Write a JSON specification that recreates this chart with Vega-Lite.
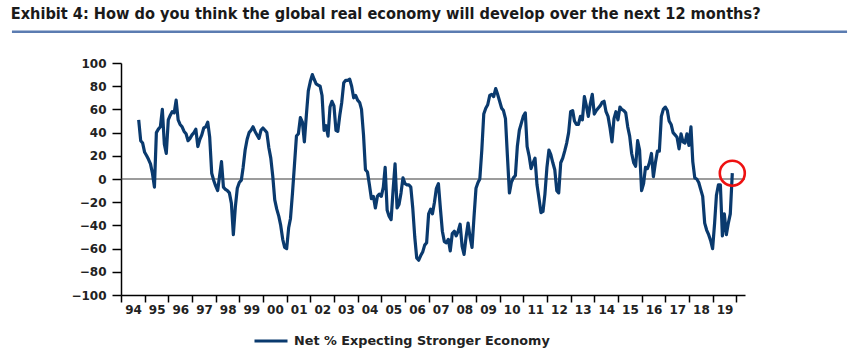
{
  "$schema": "https://vega.github.io/schema/vega-lite/v6.json",
  "background": "white",
  "padding": {"left": 10, "top": 6, "right": 8, "bottom": 5},
  "title": {
    "text": "Exhibit 4: How do you think the global real economy will develop over the next 12 months?",
    "anchor": "start",
    "font": "DejaVu Sans Condensed, Liberation Sans Narrow, Liberation Sans, sans-serif",
    "fontSize": 16.2,
    "fontWeight": "bold",
    "color": "#1a1a1a",
    "offset": 8
  },
  "width": 624,
  "height": 232,
  "config": {
    "view": {"stroke": null},
    "axis": {
      "grid": false,
      "domainColor": "#000000",
      "domainWidth": 1.5,
      "tickColor": "#000000",
      "tickWidth": 1.5,
      "labelFont": "DejaVu Sans",
      "labelFontSize": 12,
      "labelFontWeight": "bold",
      "labelColor": "#222222",
      "labelOverlap": false,
      "title": null
    },
    "axisY": {"tickSize": 9, "labelPadding": 6, "tickCount": 11}
  },
  "datasets": {
    "series": [
    {"date":"1994-10-01","value":51},{"date":"1994-11-01","value":33},{"date":"1994-12-01","value":31},
    {"date":"1995-01-01","value":23},{"date":"1995-02-01","value":20},{"date":"1995-03-01","value":17},{"date":"1995-04-01","value":13},{"date":"1995-05-01","value":5},{"date":"1995-06-01","value":-7},{"date":"1995-07-01","value":40},{"date":"1995-08-01","value":43},{"date":"1995-09-01","value":45},{"date":"1995-10-01","value":60},{"date":"1995-11-01","value":30},{"date":"1995-12-01","value":22},
    {"date":"1996-01-01","value":51},{"date":"1996-02-01","value":55},{"date":"1996-03-01","value":58},{"date":"1996-04-01","value":57},{"date":"1996-05-01","value":68},{"date":"1996-06-01","value":51},{"date":"1996-07-01","value":47},{"date":"1996-08-01","value":45},{"date":"1996-09-01","value":41},{"date":"1996-10-01","value":39},{"date":"1996-11-01","value":33},{"date":"1996-12-01","value":35},
    {"date":"1997-01-01","value":38},{"date":"1997-02-01","value":40},{"date":"1997-03-01","value":43},{"date":"1997-04-01","value":28},{"date":"1997-05-01","value":34},{"date":"1997-06-01","value":38},{"date":"1997-07-01","value":44},{"date":"1997-08-01","value":45},{"date":"1997-09-01","value":49},{"date":"1997-10-01","value":36},{"date":"1997-11-01","value":5},{"date":"1997-12-01","value":-1},
    {"date":"1998-01-01","value":-6},{"date":"1998-02-01","value":-10},{"date":"1998-03-01","value":2},{"date":"1998-04-01","value":15},{"date":"1998-05-01","value":-7},{"date":"1998-06-01","value":-9},{"date":"1998-07-01","value":-10},{"date":"1998-08-01","value":-12},{"date":"1998-09-01","value":-21},{"date":"1998-10-01","value":-48},{"date":"1998-11-01","value":-24},{"date":"1998-12-01","value":-8},
    {"date":"1999-01-01","value":-3},{"date":"1999-02-01","value":-1},{"date":"1999-03-01","value":10},{"date":"1999-04-01","value":25},{"date":"1999-05-01","value":34},{"date":"1999-06-01","value":40},{"date":"1999-07-01","value":42},{"date":"1999-08-01","value":45},{"date":"1999-09-01","value":41},{"date":"1999-10-01","value":38},{"date":"1999-11-01","value":35},{"date":"1999-12-01","value":42},
    {"date":"2000-01-01","value":44},{"date":"2000-02-01","value":42},{"date":"2000-03-01","value":40},{"date":"2000-04-01","value":27},{"date":"2000-05-01","value":18},{"date":"2000-06-01","value":2},{"date":"2000-07-01","value":-18},{"date":"2000-08-01","value":-26},{"date":"2000-09-01","value":-32},{"date":"2000-10-01","value":-40},{"date":"2000-11-01","value":-52},{"date":"2000-12-01","value":-59},
    {"date":"2001-01-01","value":-60},{"date":"2001-02-01","value":-42},{"date":"2001-03-01","value":-34},{"date":"2001-04-01","value":-12},{"date":"2001-05-01","value":12},{"date":"2001-06-01","value":37},{"date":"2001-07-01","value":39},{"date":"2001-08-01","value":53},{"date":"2001-09-01","value":49},{"date":"2001-10-01","value":32},{"date":"2001-11-01","value":55},{"date":"2001-12-01","value":76},
    {"date":"2002-01-01","value":84},{"date":"2002-02-01","value":90},{"date":"2002-03-01","value":86},{"date":"2002-04-01","value":82},{"date":"2002-05-01","value":81},{"date":"2002-06-01","value":80},{"date":"2002-07-01","value":72},{"date":"2002-08-01","value":42},{"date":"2002-09-01","value":46},{"date":"2002-10-01","value":37},{"date":"2002-11-01","value":62},{"date":"2002-12-01","value":67},
    {"date":"2003-01-01","value":63},{"date":"2003-02-01","value":42},{"date":"2003-03-01","value":41},{"date":"2003-04-01","value":55},{"date":"2003-05-01","value":66},{"date":"2003-06-01","value":83},{"date":"2003-07-01","value":85},{"date":"2003-08-01","value":85},{"date":"2003-09-01","value":86},{"date":"2003-10-01","value":80},{"date":"2003-11-01","value":70},{"date":"2003-12-01","value":72},
    {"date":"2004-01-01","value":68},{"date":"2004-02-01","value":66},{"date":"2004-03-01","value":60},{"date":"2004-04-01","value":38},{"date":"2004-05-01","value":8},{"date":"2004-06-01","value":6},{"date":"2004-07-01","value":-5},{"date":"2004-08-01","value":-17},{"date":"2004-09-01","value":-15},{"date":"2004-10-01","value":-25},{"date":"2004-11-01","value":-15},{"date":"2004-12-01","value":-13},
    {"date":"2005-01-01","value":-15},{"date":"2005-02-01","value":-7},{"date":"2005-03-01","value":10},{"date":"2005-04-01","value":-27},{"date":"2005-05-01","value":-32},{"date":"2005-06-01","value":-35},{"date":"2005-07-01","value":-10},{"date":"2005-08-01","value":13},{"date":"2005-09-01","value":-25},{"date":"2005-10-01","value":-22},{"date":"2005-11-01","value":-12},{"date":"2005-12-01","value":1},
    {"date":"2006-01-01","value":-4},{"date":"2006-02-01","value":-5},{"date":"2006-03-01","value":-5},{"date":"2006-04-01","value":-7},{"date":"2006-05-01","value":-25},{"date":"2006-06-01","value":-50},{"date":"2006-07-01","value":-68},{"date":"2006-08-01","value":-70},{"date":"2006-09-01","value":-66},{"date":"2006-10-01","value":-63},{"date":"2006-11-01","value":-57},{"date":"2006-12-01","value":-55},
    {"date":"2007-01-01","value":-30},{"date":"2007-02-01","value":-26},{"date":"2007-03-01","value":-30},{"date":"2007-04-01","value":-20},{"date":"2007-05-01","value":-8},{"date":"2007-06-01","value":-4},{"date":"2007-07-01","value":-25},{"date":"2007-08-01","value":-45},{"date":"2007-09-01","value":-54},{"date":"2007-10-01","value":-55},{"date":"2007-11-01","value":-52},{"date":"2007-12-01","value":-62},
    {"date":"2008-01-01","value":-47},{"date":"2008-02-01","value":-45},{"date":"2008-03-01","value":-49},{"date":"2008-04-01","value":-45},{"date":"2008-05-01","value":-39},{"date":"2008-06-01","value":-58},{"date":"2008-07-01","value":-65},{"date":"2008-08-01","value":-50},{"date":"2008-09-01","value":-38},{"date":"2008-10-01","value":-50},{"date":"2008-11-01","value":-59},{"date":"2008-12-01","value":-33},
    {"date":"2009-01-01","value":-8},{"date":"2009-02-01","value":-3},{"date":"2009-03-01","value":0},{"date":"2009-04-01","value":25},{"date":"2009-05-01","value":56},{"date":"2009-06-01","value":61},{"date":"2009-07-01","value":64},{"date":"2009-08-01","value":72},{"date":"2009-09-01","value":73},{"date":"2009-10-01","value":71},{"date":"2009-11-01","value":78},{"date":"2009-12-01","value":73},
    {"date":"2010-01-01","value":67},{"date":"2010-02-01","value":61},{"date":"2010-03-01","value":59},{"date":"2010-04-01","value":52},{"date":"2010-05-01","value":20},{"date":"2010-06-01","value":-12},{"date":"2010-07-01","value":-3},{"date":"2010-08-01","value":1},{"date":"2010-09-01","value":3},{"date":"2010-10-01","value":28},{"date":"2010-11-01","value":42},{"date":"2010-12-01","value":48},
    {"date":"2011-01-01","value":54},{"date":"2011-02-01","value":57},{"date":"2011-03-01","value":28},{"date":"2011-04-01","value":20},{"date":"2011-05-01","value":9},{"date":"2011-06-01","value":14},{"date":"2011-07-01","value":18},{"date":"2011-08-01","value":-5},{"date":"2011-09-01","value":-17},{"date":"2011-10-01","value":-29},{"date":"2011-11-01","value":-28},{"date":"2011-12-01","value":-13},
    {"date":"2012-01-01","value":10},{"date":"2012-02-01","value":25},{"date":"2012-03-01","value":21},{"date":"2012-04-01","value":14},{"date":"2012-05-01","value":8},{"date":"2012-06-01","value":-10},{"date":"2012-07-01","value":-12},{"date":"2012-08-01","value":14},{"date":"2012-09-01","value":18},{"date":"2012-10-01","value":24},{"date":"2012-11-01","value":31},{"date":"2012-12-01","value":40},
    {"date":"2013-01-01","value":58},{"date":"2013-02-01","value":59},{"date":"2013-03-01","value":50},{"date":"2013-04-01","value":47},{"date":"2013-05-01","value":47},{"date":"2013-06-01","value":54},{"date":"2013-07-01","value":51},{"date":"2013-08-01","value":71},{"date":"2013-09-01","value":63},{"date":"2013-10-01","value":54},{"date":"2013-11-01","value":65},{"date":"2013-12-01","value":73},
    {"date":"2014-01-01","value":56},{"date":"2014-02-01","value":59},{"date":"2014-03-01","value":61},{"date":"2014-04-01","value":63},{"date":"2014-05-01","value":66},{"date":"2014-06-01","value":67},{"date":"2014-07-01","value":58},{"date":"2014-08-01","value":54},{"date":"2014-09-01","value":44},{"date":"2014-10-01","value":32},{"date":"2014-11-01","value":52},{"date":"2014-12-01","value":58},
    {"date":"2015-01-01","value":51},{"date":"2015-02-01","value":62},{"date":"2015-03-01","value":60},{"date":"2015-04-01","value":59},{"date":"2015-05-01","value":57},{"date":"2015-06-01","value":45},{"date":"2015-07-01","value":37},{"date":"2015-08-01","value":22},{"date":"2015-09-01","value":14},{"date":"2015-10-01","value":11},{"date":"2015-11-01","value":33},{"date":"2015-12-01","value":25},
    {"date":"2016-01-01","value":-10},{"date":"2016-02-01","value":-4},{"date":"2016-03-01","value":10},{"date":"2016-04-01","value":9},{"date":"2016-05-01","value":14},{"date":"2016-06-01","value":22},{"date":"2016-07-01","value":2},{"date":"2016-08-01","value":14},{"date":"2016-09-01","value":24},{"date":"2016-10-01","value":24},{"date":"2016-11-01","value":54},{"date":"2016-12-01","value":60},
    {"date":"2017-01-01","value":62},{"date":"2017-02-01","value":59},{"date":"2017-03-01","value":50},{"date":"2017-04-01","value":47},{"date":"2017-05-01","value":40},{"date":"2017-06-01","value":38},{"date":"2017-07-01","value":36},{"date":"2017-08-01","value":26},{"date":"2017-09-01","value":39},{"date":"2017-10-01","value":32},{"date":"2017-11-01","value":31},{"date":"2017-12-01","value":39},
    {"date":"2018-01-01","value":29},{"date":"2018-02-01","value":45},{"date":"2018-03-01","value":15},{"date":"2018-04-01","value":1},{"date":"2018-05-01","value":0},{"date":"2018-06-01","value":-3},{"date":"2018-07-01","value":-9},{"date":"2018-08-01","value":-15},{"date":"2018-09-01","value":-38},{"date":"2018-10-01","value":-44},{"date":"2018-11-01","value":-48},{"date":"2018-12-01","value":-53},
    {"date":"2019-01-01","value":-60},{"date":"2019-02-01","value":-38},{"date":"2019-03-01","value":-14},{"date":"2019-04-01","value":-5},{"date":"2019-05-01","value":-5},{"date":"2019-06-01","value":-49},{"date":"2019-07-01","value":-30},{"date":"2019-08-01","value":-48},{"date":"2019-09-01","value":-38},{"date":"2019-10-01","value":-30},{"date":"2019-11-01","value":5}
    ],
    "underline": [{"start": "1989-05-24", "end": "2024-09-06", "level": 127}],
    "zero": [{"level": 0}]
  },
  "layer": [
    {
      "data": {"name": "zero"},
      "mark": {"type": "rule", "color": "#3a3a3a", "strokeWidth": 1.1},
      "encoding": {
        "y": {"field": "level", "type": "quantitative", "scale": {"domain": [-100, 100], "nice": false},
          "axis": {"values": [-100, -80, -60, -40, -20, 0, 20, 40, 60, 80, 100]}}
      }
    },
    {
      "data": {"name": "series"},
      "mark": {"type": "line", "strokeWidth": 3.2, "strokeJoin": "round"},
      "encoding": {
        "x": {
          "field": "date",
          "type": "temporal",
          "scale": {
            "type": "utc",
            "domain": [{"year": 1994, "month": 1, "date": 1, "utc": true}, {"year": 2020, "month": 5, "date": 15, "utc": true}],
            "nice": false
          },
          "axis": {
            "tickCount": {"interval": "year", "step": 1},
            "tickSize": 7,
            "labelPadding": 2,
            "labelOffset": 12,
            "labelFlush": false,
            "labelExpr": "utcyear(datum.value) >= 2020 ? '' : utcFormat(datum.value, '%y')"
          }
        },
        "y": {"field": "value", "type": "quantitative",
          "axis": {"values": [-100, -80, -60, -40, -20, 0, 20, 40, 60, 80, 100]}},
        "color": {
          "datum": "Net % Expecting Stronger Economy",
          "scale": {"range": ["#0a3a6e"]},
          "legend": {
            "orient": "none",
            "legendX": 132,
            "legendY": 260,
            "direction": "horizontal",
            "title": null,
            "symbolType": "stroke",
            "symbolSize": 1089,
            "symbolStrokeWidth": 3,
            "labelFont": "DejaVu Sans",
            "labelFontSize": 12.8,
            "labelFontWeight": "bold",
            "labelColor": "#222222",
            "labelOffset": 5,
            "labelLimit": 0
          }
        }
      }
    },
    {
      "data": {"name": "series"},
      "transform": [{"filter": "utcyear(datum.date) == 2019 && utcmonth(datum.date) == 10"}],
      "mark": {"type": "point", "shape": "circle", "filled": false, "size": 625, "stroke": "#ee1111", "strokeWidth": 2.6, "opacity": 1},
      "encoding": {
        "x": {"field": "date", "type": "temporal"},
        "y": {"field": "value", "type": "quantitative",
          "axis": {"values": [-100, -80, -60, -40, -20, 0, 20, 40, 60, 80, 100]}}
      }
    },
    {
      "data": {"name": "underline"},
      "mark": {"type": "rule", "color": "#5b7cb1", "strokeWidth": 2.5, "clip": false},
      "encoding": {
        "x": {"field": "start", "type": "temporal"},
        "x2": {"field": "end"},
        "y": {"field": "level", "type": "quantitative",
          "axis": {"values": [-100, -80, -60, -40, -20, 0, 20, 40, 60, 80, 100]}}
      }
    }
  ]
}
